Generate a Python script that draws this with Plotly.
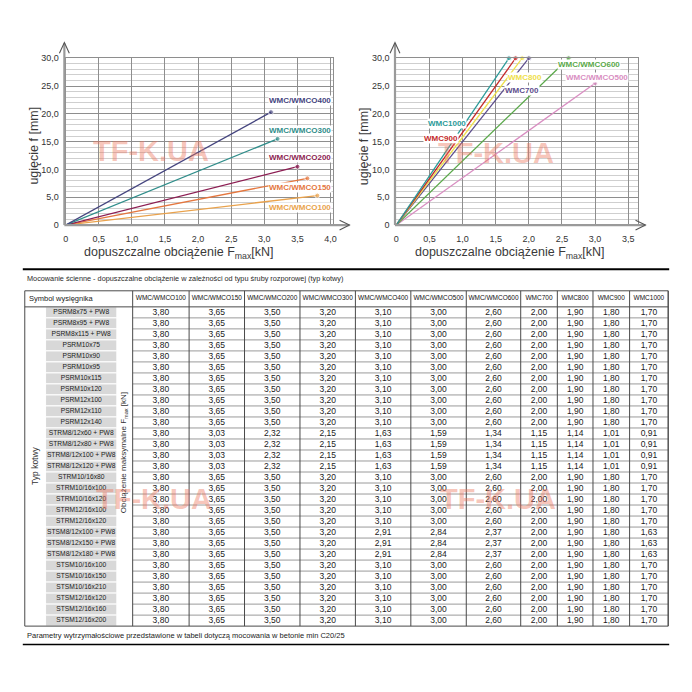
import plotly.graph_objects as go

FONT = 'Liberation Sans, Arial, sans-serif'
SIZE = 692

# ---- charts: deflection f [mm] at permissible load Fmax [kN] ----
small_models = ['WMC/WMCO100', 'WMC/WMCO150', 'WMC/WMCO200', 'WMC/WMCO300', 'WMC/WMCO400']
small_fmax = [3.80, 3.65, 3.50, 3.20, 3.10]
small_deflection = [5.3, 8.4, 10.5, 15.5, 20.3]

large_models = ['WMC/WMCO500', 'WMC/WMCO600', 'WMC700', 'WMC800', 'WMC900', 'WMC1000']
large_fmax = [3.00, 2.60, 2.00, 1.90, 1.80, 1.70]
large_deflection = [25.5, 30.0, 30.0, 30.0, 30.0, 30.0]

left_x_ticks = [0, 0.5, 1.0, 1.5, 2.0, 2.5, 3.0, 3.5, 4.0]
right_x_ticks = [0, 0.5, 1.0, 1.5, 2.0, 2.5, 3.0, 3.5]
y_ticks = [0, 5, 10, 15, 20, 25, 30]

# ---- table ----
table_title = 'Mocowanie ścienne - dopuszczalne obciążenie w zależności od typu śruby rozporowej (typ kotwy)'
table_footer = 'Parametry wytrzymałościowe przedstawione w tabeli dotyczą mocowania w betonie min C20/25'
table_columns = ['WMC/WMCO100', 'WMC/WMCO150', 'WMC/WMCO200', 'WMC/WMCO300', 'WMC/WMCO400',
                 'WMC/WMCO500', 'WMC/WMCO600', 'WMC700', 'WMC800', 'WMC900', 'WMC1000']
anchor_types = [
    'PSRM8x75 + PW8', 'PSRM8x95 + PW8', 'PSRM8x115 + PW8', 'PSRM10x75', 'PSRM10x90',
    'PSRM10x95', 'PSRM10x115', 'PSRM10x120', 'PSRM12x100', 'PSRM12x110', 'PSRM12x140',
    'STRM8/12x60 + PW8', 'STRM8/12x80 + PW8', 'STRM8/12x100 + PW8', 'STRM8/12x120 + PW8',
    'STRM10/16x80', 'STRM10/16x100', 'STRM10/16x120', 'STRM12/16x100', 'STRM12/16x120',
    'STSM8/12x100 + PW8', 'STSM8/12x150 + PW8', 'STSM8/12x180 + PW8',
    'STSM10/16x100', 'STSM10/16x150', 'STSM10/16x210', 'STSM12/16x120', 'STSM12/16x160', 'STSM12/16x200',
]
load_standard = [3.80, 3.65, 3.50, 3.20, 3.10, 3.00, 2.60, 2.00, 1.90, 1.80, 1.70]
load_strm8 = [3.80, 3.03, 2.32, 2.15, 1.63, 1.59, 1.34, 1.15, 1.14, 1.01, 0.91]
load_stsm8 = [3.80, 3.65, 3.50, 3.20, 2.91, 2.84, 2.37, 2.00, 1.90, 1.80, 1.63]
anchor_load_group = (['standard'] * 11 + ['strm8'] * 4 + ['standard'] * 5
                     + ['stsm8'] * 3 + ['standard'] * 6)
load_groups = {'standard': load_standard, 'strm8': load_strm8, 'stsm8': load_stsm8}


def comma(v, zero_plain=False):
    if zero_plain and v == 0:
        return '0'
    return f'{v:.1f}'.replace('.', ',')


fig = go.Figure()

small_colors = ['#e9a24c', '#e4773f', '#8c1d52', '#2f8d8a', '#45457f']
small_label_y = [3.1, 6.8, 12.1, 17.0, 22.4]
for name, fx, fy, color, ly in zip(small_models, small_fmax, small_deflection, small_colors, small_label_y):
    fig.add_trace(go.Scatter(
        x=[0, fx], y=[0, fy], mode='lines+markers', name=name,
        line=dict(color=color, width=1.3), marker=dict(size=[0, 5], color=color),
        cliponaxis=False, xaxis='x', yaxis='y'
    ))
    fig.add_annotation(x=3.06, y=ly, xref='x', yref='y', text=f'<b>{name}</b>', showarrow=False,
                       xanchor='left', bgcolor='white', borderpad=0,
                       font=dict(family=FONT, size=8, color=color))

large_colors = ['#d98ec2', '#5aa84a', '#5c4d8c', '#efe04c', '#c42a2a', '#2a9a98']
large_label_xy = [(2.55, 26.6), (2.43, 28.8), (1.62, 24.25), (1.67, 26.5), (0.40, 15.5), (0.47, 18.3)]
for name, fx, fy, color in zip(large_models, large_fmax, large_deflection, large_colors):
    fig.add_trace(go.Scatter(
        x=[0, fx], y=[0, fy], mode='lines+markers', name=name,
        line=dict(color=color, width=1.3), marker=dict(size=[0, 5], color=color),
        cliponaxis=False, xaxis='x2', yaxis='y2'
    ))
for name, color, (lx, ly) in zip(large_models, large_colors, large_label_xy):
    fig.add_annotation(x=lx, y=ly, xref='x2', yref='y2', text=f'<b>{name}</b>', showarrow=False,
                       xanchor='left', bgcolor='white', borderpad=0,
                       font=dict(family=FONT, size=8, color=color))

# ---- table drawn on a full-page pixel overlay (x3/y3) ----
col_edges = [131, 188, 244, 300, 356, 412, 468, 523, 560, 596, 633, 672]
col_centers = [(a + b) / 2 for a, b in zip(col_edges[:-1], col_edges[1:])]
head_top, row_top, row_h = 290, 306.3, 11.17
n_rows = len(anchor_types)
table_bottom = row_top + n_rows * row_h
row_centers = [row_top + (i + 0.5) * row_h for i in range(n_rows)]

cell_x, cell_y, cell_text = [], [], []
for i, group in enumerate(anchor_load_group):
    for j, v in enumerate(load_groups[group]):
        cell_x.append(col_centers[j])
        cell_y.append(row_centers[i])
        cell_text.append(f'{v:.2f}'.replace('.', ','))

lines = dict(xref='x3', yref='y3')
# gray label cells
for i in range(n_rows):
    fig.add_shape(type='rect', x0=43, x1=115, y0=row_top + i * row_h, y1=row_top + (i + 1) * row_h,
                  fillcolor='#d8d8d8', line=dict(color='white', width=1), layer='below', **lines)
# row separators in value area
for i in range(1, n_rows):
    y = row_top + i * row_h
    fig.add_shape(type='line', x0=col_edges[0], x1=col_edges[-1], y0=y, y1=y,
                  line=dict(color='#9a9a9a', width=1), **lines)
# column separators
for x in col_edges:
    fig.add_shape(type='line', x0=x, x1=x, y0=head_top, y1=table_bottom,
                  line=dict(color='#4a4a4a', width=1), **lines)
# outer border and header line
fig.add_shape(type='rect', x0=22, x1=col_edges[-1], y0=head_top, y1=table_bottom,
              line=dict(color='#4a4a4a', width=1), **lines)
fig.add_shape(type='line', x0=22, x1=col_edges[-1], y0=row_top, y1=row_top,
              line=dict(color='#4a4a4a', width=1), **lines)
# rules above and below the table block
fig.add_shape(type='line', x0=20, x1=673, y0=268, y1=268, line=dict(color='black', width=2), **lines)
fig.add_shape(type='line', x0=20, x1=673, y0=649, y1=649, line=dict(color='black', width=1.5), **lines)

fig.add_trace(go.Scatter(
    x=cell_x, y=cell_y, text=cell_text, mode='text',
    textfont=dict(family=FONT, size=8.5, color='#1a1a1a'),
    xaxis='x3', yaxis='y3', hoverinfo='skip'
))
fig.add_trace(go.Scatter(
    x=[79] * n_rows, y=row_centers, text=anchor_types, mode='text',
    textfont=dict(family=FONT, size=6.7, color='#1a1a1a'),
    xaxis='x3', yaxis='y3', hoverinfo='skip'
))
fig.add_trace(go.Scatter(
    x=col_centers, y=[(head_top + row_top) / 2] * len(table_columns), text=table_columns, mode='text',
    textfont=dict(family=FONT, size=6.5, color='#111111'),
    xaxis='x3', yaxis='y3', hoverinfo='skip'
))

txt = dict(xref='x3', yref='y3', showarrow=False)
fig.add_annotation(x=24, y=(head_top + row_top) / 2, text='Symbol wysięgnika', xanchor='left',
                   font=dict(family=FONT, size=7.5, color='#222'), **txt)
fig.add_annotation(x=22, y=278, text=table_title, xanchor='left',
                   font=dict(family=FONT, size=7.3, color='#2a2a2a'), **txt)
fig.add_annotation(x=22, y=640, text=table_footer, xanchor='left',
                   font=dict(family=FONT, size=7.5, color='#222'), **txt)
fig.add_annotation(x=33, y=467, text='Typ kotwy', textangle=-90,
                   font=dict(family=FONT, size=8.5, color='#333'), **txt)
fig.add_annotation(x=123, y=454, text='Obciążenie maksymalne F<sub>max</sub> [kN]', textangle=-90,
                   font=dict(family=FONT, size=8, color='#333'), **txt)

# ---- chart axis arrows and titles (pixel overlay) ----
for ax_x, tip_x, title_x in [(62, 350, 178), (396, 649, 512)]:
    fig.add_shape(type='line', x0=ax_x, x1=ax_x, y0=223.3, y1=39,
                  line=dict(color='#9a9a9a', width=2.2), **lines)
    fig.add_shape(type='line', x0=ax_x, x1=tip_x, y0=223.3, y1=223.3,
                  line=dict(color='#9a9a9a', width=2.2), **lines)
    fig.add_shape(type='path', path=f'M {ax_x - 5} 49 L {ax_x} 38 L {ax_x + 5} 49',
                  line=dict(color='#555', width=1.1), **lines)
    fig.add_shape(type='path', path=f'M {tip_x - 10} 218.3 L {tip_x} 223.3 L {tip_x - 10} 228.3',
                  line=dict(color='#555', width=1.1), **lines)
    fig.add_annotation(x=title_x, y=252, text='dopuszczalne obciążenie F<sub>max</sub>[kN]',
                       font=dict(family=FONT, size=12.5, color='#3a3a3a'), **txt)
for t_x in [31, 365]:
    fig.add_annotation(x=t_x, y=143, text='ugięcie f [mm]', textangle=-90,
                       font=dict(family=FONT, size=12.5, color='#3a3a3a'), **txt)

# watermarks
for wx, wy in [(150, 148), (498, 150), (153, 501), (500, 501)]:
    fig.add_annotation(x=wx, y=wy, text='<b>TF-K.UA</b>',
                       font=dict(family=FONT, size=29, color='rgba(236,115,90,0.42)'), **txt)

grid_axis = dict(showgrid=True, gridcolor='#8e8e8e', gridwidth=1, zeroline=False,
                 showline=True, mirror=True, linecolor='#8e8e8e', linewidth=1,
                 ticks='', tickfont=dict(family=FONT, size=9, color='#333'), fixedrange=True)
y_dom = [1 - 223.3 / SIZE, 1 - 54 / SIZE]

fig.update_layout(
    width=SIZE, height=SIZE,
    margin=dict(l=0, r=0, t=0, b=0),
    paper_bgcolor='white', plot_bgcolor='rgba(0,0,0,0)',
    template='plotly_white', showlegend=False,
    xaxis=dict(domain=[63.3 / SIZE, (63.3 + 4.03 * 66.9) / SIZE], range=[0, 4.03],
               tickvals=left_x_ticks, ticktext=[comma(v, True) for v in left_x_ticks],
               ticklabelstandoff=5, **grid_axis),
    yaxis=dict(domain=y_dom, range=[0, 30], tickvals=y_ticks,
               ticktext=[comma(v, True) for v in y_ticks], ticklabelstandoff=4,
               minor=dict(dtick=1, showgrid=True, gridcolor='#cfcfcf', gridwidth=1),
               **grid_axis),
    xaxis2=dict(domain=[397.3 / SIZE, (397.3 + 3.65 * 66.95) / SIZE], range=[0, 3.65],
                tickvals=right_x_ticks, ticktext=[comma(v, True) for v in right_x_ticks],
                ticklabelstandoff=5, anchor='y2', **grid_axis),
    yaxis2=dict(domain=y_dom, range=[0, 30], tickvals=y_ticks,
                ticktext=[comma(v, True) for v in y_ticks], ticklabelstandoff=4, anchor='x2',
                minor=dict(dtick=1, showgrid=True, gridcolor='#cfcfcf', gridwidth=1),
                **grid_axis),
    xaxis3=dict(domain=[0, 1], range=[0, SIZE], visible=False, fixedrange=True, anchor='y3'),
    yaxis3=dict(domain=[0, 1], range=[SIZE, 0], visible=False, fixedrange=True, anchor='x3'),
)

# the page body has a default 8px margin; drop it so the 692px figure fills the window
fig.write_html(
    'out.html',
    config={'displayModeBar': False},
    post_script="document.body.style.margin='0';document.body.style.overflow='hidden';"
)
